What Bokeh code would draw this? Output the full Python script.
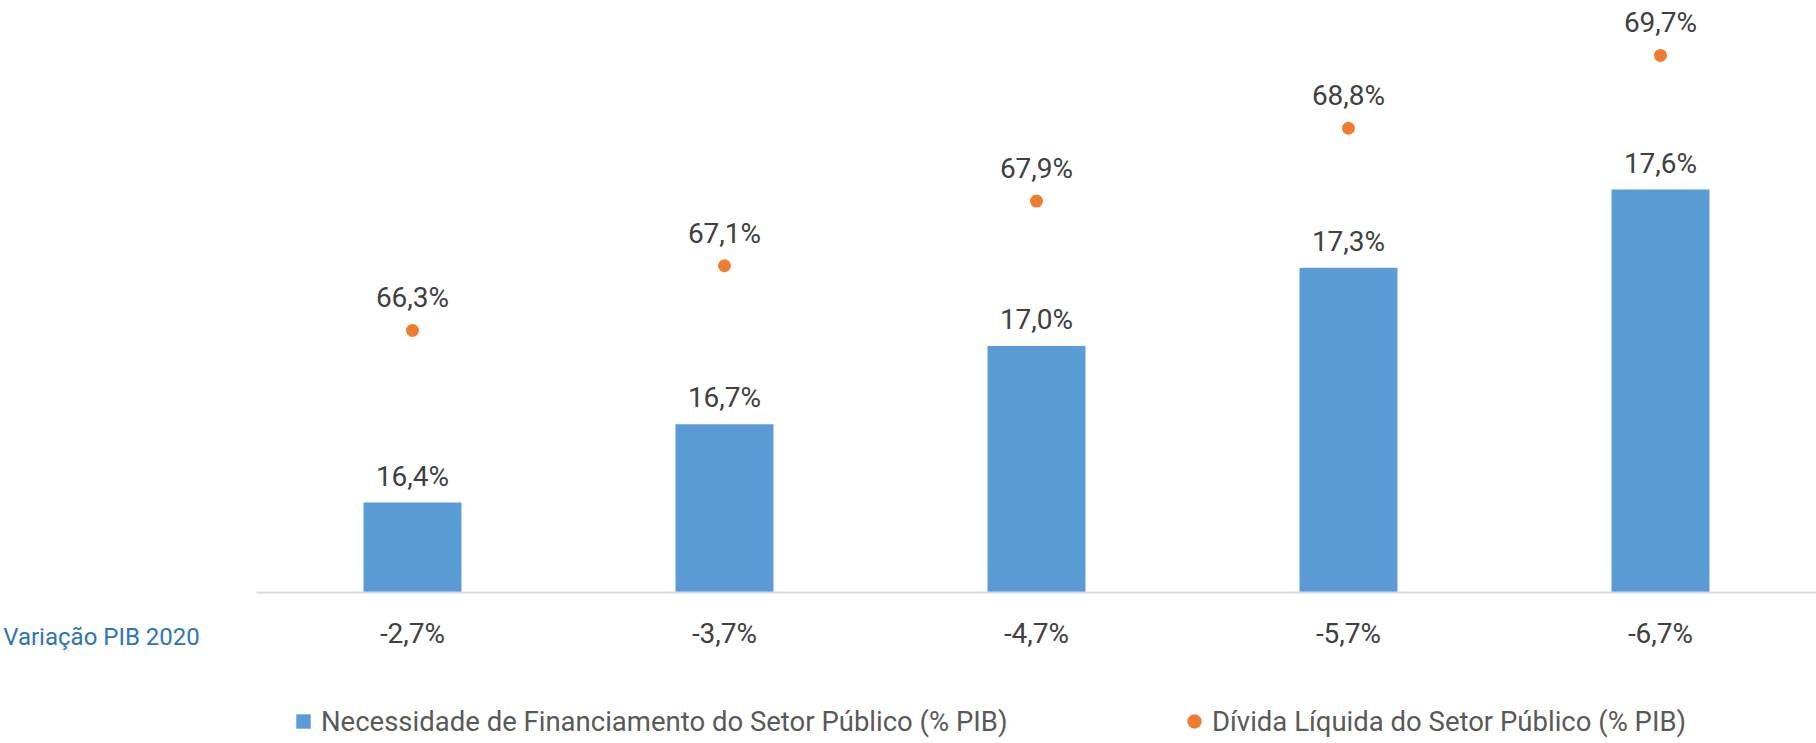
from bokeh.plotting import figure
from bokeh.layouts import row, column
from bokeh.models import (ColumnDataSource, Range1d, FixedTicker, LabelSet,
                          Legend, LegendItem)
from bokeh.core.properties import value
from bokeh.embed import file_html
from bokeh.resources import INLINE

# ---- data ----
pib_variation = ["-2,7%", "-3,7%", "-4,7%", "-5,7%", "-6,7%"]
nfsp = [16.4, 16.7, 17.0, 17.3, 17.6]          # Necessidade de Financiamento (% PIB)
dlsp = [66.3, 67.1, 67.9, 68.8, 69.7]          # Dívida Líquida (% PIB)
bar_name = "Necessidade de Financiamento do Setor Público (% PIB)"
dot_name = "Dívida Líquida do Setor Público (% PIB)"
row_title = "Variação PIB 2020"

def fmt(v):
    return f"{v:.1f}%".replace(".", ",")

FONT = "Roboto"
TXT = "#404040"
BLUE = "#5B9BD5"
ORANGE = "#ED7D31"

def style_axis(ax, color, size, standoff):
    ax.major_label_text_font = FONT
    ax.major_label_text_font_size = size
    ax.major_label_text_color = color
    ax.major_label_standoff = standoff
    ax.major_tick_line_color = None
    ax.minor_tick_line_color = None

idx = list(range(len(pib_variation)))
src = ColumnDataSource(dict(
    x=idx, nfsp=nfsp, dlsp=dlsp,
    nfsp_lbl=[fmt(v) for v in nfsp], dlsp_lbl=[fmt(v) for v in dlsp],
))

# ---- main chart ----
bar_start = 16.055
dot_start = 63.06
p = figure(width=1560, height=700, output_backend="svg", toolbar_location=None,
           x_range=Range1d(-0.5, 4.5),
           y_range=Range1d(bar_start, bar_start + 592 / 260.8),
           min_border_left=0, min_border_right=0, min_border_top=0, min_border_bottom=108)
p.extra_y_ranges = {"dl": Range1d(dot_start, dot_start + 592 / 80.88)}
p.outline_line_color = None
p.grid.visible = False
p.yaxis.visible = False

bars = p.vbar(x="x", top="nfsp", bottom=bar_start, width=0.314, source=src,
              fill_color=BLUE, line_color=None)
dots = p.scatter(x="x", y="dlsp", size=13, source=src, y_range_name="dl",
                 fill_color=ORANGE, line_color=None)

lbl_kw = dict(text_align="center", text_baseline="alphabetic",
              text_font=value(FONT), text_font_size=value("28px"), text_color=TXT)
p.add_layout(LabelSet(x="x", y="nfsp", text="nfsp_lbl", source=src, y_offset=17, **lbl_kw))
p.add_layout(LabelSet(x="x", y="dlsp", text="dlsp_lbl", source=src, y_offset=23,
                      y_range_name="dl", **lbl_kw))

ax = p.xaxis[0]
ax.ticker = FixedTicker(ticks=idx)
ax.major_label_overrides = {i: lab for i, lab in zip(idx, pib_variation)}
style_axis(ax, TXT, "28px", 18)
ax.axis_line_color = "#D9D9D9"
ax.axis_line_width = 2

# ---- left strip: row title drawn as the tick label of its own axis ----
left = figure(width=256, height=700, output_backend="svg", toolbar_location=None,
              x_range=Range1d(0, 256), y_range=Range1d(0, 1),
              min_border_left=0, min_border_right=0, min_border_top=0,
              min_border_bottom=108)
left.outline_line_color = None
left.grid.visible = False
left.yaxis.visible = False
lax = left.xaxis[0]
lax.ticker = FixedTicker(ticks=[101])
lax.major_label_overrides = {101: row_title}
style_axis(lax, "#2E75B6", "24px", 24)
lax.axis_line_color = None

# ---- legend strip ----
lg = figure(width=1816, height=43, output_backend="svg", toolbar_location=None,
            x_range=Range1d(100, 101), y_range=Range1d(100, 101),
            min_border_left=0, min_border_right=0, min_border_top=0, min_border_bottom=0)
lg.outline_line_color = None
lg.grid.visible = False
lg.axis.visible = False
r_bar = lg.scatter(x="x", y="nfsp", source=src, marker="square",
                   fill_color=BLUE, line_color=None)
r_dot = lg.scatter(x="x", y="dlsp", source=src, marker="circle",
                   fill_color=ORANGE, line_color=None)
common = dict(glyph_width=36, glyph_height=36, label_standoff=0, padding=0, margin=0,
              border_line_color=None, background_fill_alpha=0,
              label_text_font=FONT, label_text_font_size="27.5px", label_text_color="#595959")
lg.add_layout(Legend(items=[LegendItem(label=bar_name, renderers=[r_bar], index=0)],
                     location=(285, 4), **common))
lg.add_layout(Legend(items=[LegendItem(label=dot_name, renderers=[r_dot], index=0)],
                     location=(1176, 4), **common))

layout = column(row(left, p, spacing=0), lg, spacing=0)
open("out.html", "w").write(file_html(layout, INLINE))
